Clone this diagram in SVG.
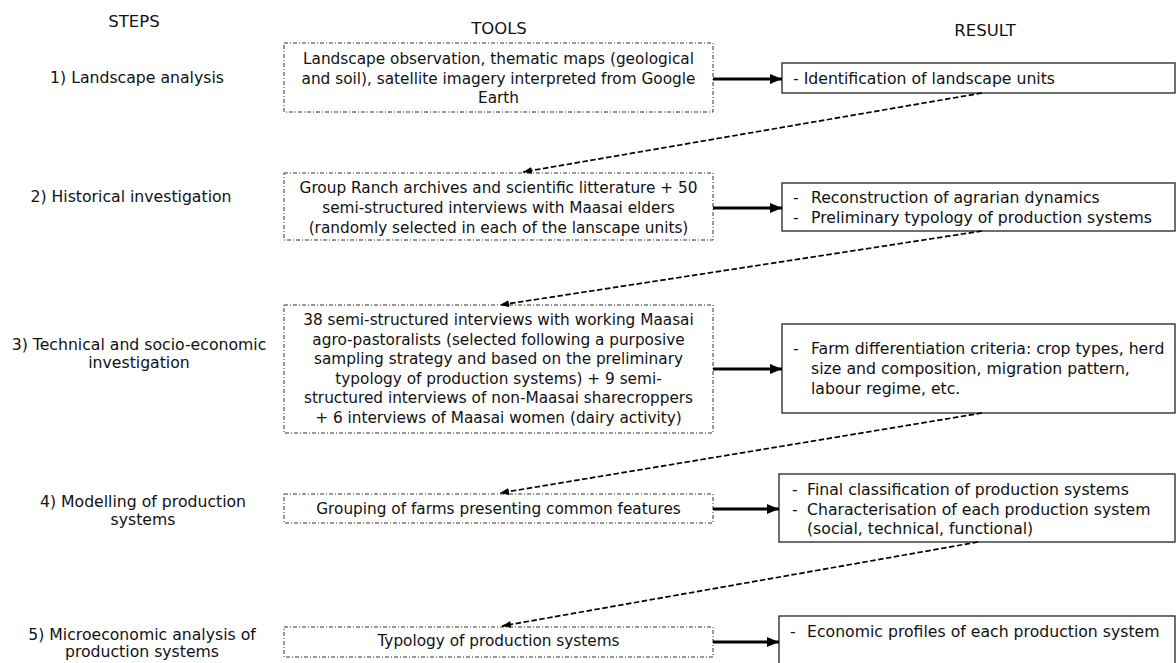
<svg xmlns="http://www.w3.org/2000/svg" width="1176" height="663" viewBox="0 0 1176 663">
<style>
text{font-family:"DejaVu Sans","Liberation Sans",sans-serif;font-size:15.3px;fill:#111}
.hd{font-size:16.5px}
.st{font-size:15.7px}
.r{font-size:15.7px}
.c{text-anchor:middle}
.tool{fill:#fff;stroke:#333;stroke-width:1;stroke-dasharray:4 2 1 2}
.res{fill:#fff;stroke:#222;stroke-width:1.3}
.thick{stroke:#000;stroke-width:3.2;fill:none;marker-end:url(#big)}
.dash{stroke:#000;stroke-width:1.7;fill:none;stroke-dasharray:5.5 2.5;marker-end:url(#small)}
</style>
<defs>
<marker id="big" markerWidth="12" markerHeight="10" refX="12" refY="5" orient="auto" markerUnits="userSpaceOnUse"><path d="M0,0 L12,5 L0,10 z" fill="#000"/></marker>
<marker id="small" markerWidth="9" markerHeight="7" refX="9" refY="3.5" orient="auto" markerUnits="userSpaceOnUse"><path d="M0,0 L9,3.5 L0,7 z" fill="#000"/></marker>
</defs>
<rect width="1176" height="663" fill="#fff"/>
<g id="headers">
<text class="hd c" x="134" y="27">STEPS</text>
<text class="hd c" x="499" y="34">TOOLS</text>
<text class="hd c" x="985" y="36">RESULT</text>
</g>
<g id="steps">
<text class="st c" x="137" y="83">1) Landscape analysis</text>
<text class="st c" x="131" y="202">2) Historical investigation</text>
<text class="st c" x="139" y="350">3) Technical and socio-economic</text>
<text class="st c" x="139" y="368">investigation</text>
<text class="st c" x="143" y="507">4) Modelling of production</text>
<text class="st c" x="143" y="525">systems</text>
<text class="st c" x="142" y="640">5) Microeconomic analysis of</text>
<text class="st c" x="142" y="657">production systems</text>
</g>
<g id="tool1">
<rect class="tool" x="284" y="43" width="429" height="69"/>
<text class="c" x="498.5" y="64">Landscape observation, thematic maps (geological</text>
<text class="c" x="498.5" y="83.5">and soil), satellite imagery interpreted from Google</text>
<text class="c" x="498.5" y="103">Earth</text>
</g>
<g id="tool2">
<rect class="tool" x="284" y="173" width="429" height="67"/>
<text class="c" x="498.5" y="193">Group Ranch archives and scientific litterature + 50</text>
<text class="c" x="498.5" y="213">semi-structured interviews with Maasai elders</text>
<text class="c" x="498.5" y="233">(randomly selected in each of the lanscape units)</text>
</g>
<g id="tool3">
<rect class="tool" x="284" y="305" width="429" height="128"/>
<text class="c" x="498.5" y="325">38 semi-structured interviews with working Maasai</text>
<text class="c" x="498.5" y="344.5">agro-pastoralists (selected following a purposive</text>
<text class="c" x="498.5" y="364">sampling strategy and based on the preliminary</text>
<text class="c" x="498.5" y="383.5">typology of production systems) + 9 semi-</text>
<text class="c" x="498.5" y="403">structured interviews of non-Maasai sharecroppers</text>
<text class="c" x="498.5" y="423">+ 6 interviews of Maasai women (dairy activity)</text>
</g>
<g id="tool4">
<rect class="tool" x="284" y="494" width="429" height="29"/>
<text class="c" x="498.5" y="514">Grouping of farms presenting common features</text>
</g>
<g id="tool5">
<rect class="tool" x="284" y="627" width="429" height="30"/>
<text class="c" x="498.5" y="646">Typology of production systems</text>
</g>
<g id="result1">
<rect class="res" x="782" y="63" width="393" height="30"/>
<text class="r" x="793" y="84">- Identification of landscape units</text>
</g>
<g id="result2">
<rect class="res" x="782" y="183" width="393" height="48"/>
<text class="r" x="793" y="203">-</text><text class="r" x="811" y="203">Reconstruction of agrarian dynamics</text>
<text class="r" x="793" y="223">-</text><text class="r" x="811" y="223">Preliminary typology of production systems</text>
</g>
<g id="result3">
<rect class="res" x="782" y="324" width="393" height="89"/>
<text class="r" x="793" y="354">-</text><text class="r" x="811" y="354">Farm differentiation criteria: crop types, herd</text>
<text class="r" x="811" y="374">size and composition, migration pattern,</text>
<text class="r" x="811" y="394">labour regime, etc.</text>
</g>
<g id="result4">
<rect class="res" x="779" y="474" width="396" height="68"/>
<text class="r" x="792" y="495">-</text><text class="r" x="807" y="495">Final classification of production systems</text>
<text class="r" x="792" y="514.5">-</text><text class="r" x="807" y="514.5">Characterisation of each production system</text>
<text class="r" x="807" y="534">(social, technical, functional)</text>
</g>
<g id="result5">
<rect class="res" x="779" y="616" width="396" height="60"/>
<text class="r" x="790" y="637">-</text><text class="r" x="807" y="637">Economic profiles of each production system</text>
</g>
<g id="connectors">
<line class="thick" x1="713" y1="79" x2="782" y2="79"/>
<line class="thick" x1="713" y1="208" x2="782" y2="208"/>
<line class="thick" x1="713" y1="369" x2="782" y2="369"/>
<line class="thick" x1="713" y1="509" x2="779" y2="509"/>
<line class="thick" x1="713" y1="642" x2="779" y2="642"/>
<line class="dash" x1="982" y1="93" x2="523" y2="172"/>
<line class="dash" x1="982" y1="231" x2="500" y2="305"/>
<line class="dash" x1="982" y1="413" x2="500" y2="493"/>
<line class="dash" x1="978" y1="542" x2="502" y2="626"/>
</g>
</svg>
